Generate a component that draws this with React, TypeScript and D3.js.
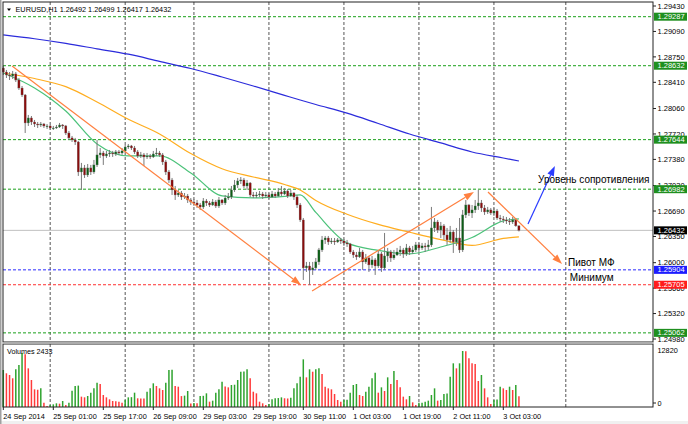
import React from "react";
import * as d3 from "d3";

// ---------- DATA ----------
const firstOpen = 1.28601;
const closes = [
  1.28548, 1.28508, 1.28495, 1.28522, 1.28441, 1.28334, 1.28241, 1.27867, 1.27934, 1.2788,
  1.27853, 1.2784, 1.27853, 1.27827, 1.27827, 1.278, 1.278, 1.27813, 1.2784, 1.27827,
  1.27733, 1.27667, 1.2764, 1.27613, 1.27212, 1.27266, 1.27172, 1.27266, 1.27212, 1.27306,
  1.2744, 1.27466, 1.27426, 1.27453, 1.27466, 1.27453, 1.2748, 1.27466, 1.27493, 1.27546,
  1.2756, 1.27533, 1.2748, 1.27426, 1.2744, 1.27413, 1.27426, 1.27413, 1.27453, 1.27466,
  1.2744, 1.27346, 1.27212, 1.27105, 1.26972, 1.26905, 1.26931, 1.26878, 1.26891, 1.26838,
  1.26811, 1.26798, 1.26771, 1.26744, 1.26824, 1.26798, 1.26771, 1.26811, 1.26758, 1.26838,
  1.26798, 1.26864, 1.26878, 1.26972, 1.27038, 1.27092, 1.27105, 1.27025, 1.27065, 1.26905,
  1.26891, 1.26905, 1.26918, 1.26891, 1.26905, 1.26878, 1.26918, 1.26891, 1.26945, 1.26918,
  1.26958, 1.26891, 1.26931, 1.26878, 1.26771, 1.26571, 1.2593, 1.25956, 1.25903, 1.2593,
  1.2601, 1.2617, 1.26304, 1.2633, 1.26277, 1.2629, 1.26277, 1.26304, 1.2629, 1.26264,
  1.2625, 1.26143, 1.26103, 1.26077, 1.26143, 1.2601, 1.26063, 1.2597, 1.26037, 1.25956,
  1.26117, 1.2593, 1.2609, 1.26143, 1.26063, 1.26103, 1.26143, 1.2617, 1.26117, 1.26197,
  1.26143, 1.2617, 1.26237, 1.26197, 1.26224, 1.2621, 1.26237, 1.26464, 1.26544, 1.26437,
  1.26491, 1.2637, 1.26304, 1.2641, 1.26277, 1.2633, 1.2617, 1.26638, 1.26771, 1.26664,
  1.26705, 1.26758, 1.26798, 1.26731, 1.26678, 1.26705, 1.26664, 1.26691, 1.26597, 1.26584,
  1.26571, 1.26557, 1.26544, 1.26571, 1.26492, 1.26432,
];
const highs = [
  1.28628, 1.28575, 1.28548, 1.28562, 1.28548, 1.28468, 1.28361, 1.28254, 1.27974, 1.2796,
  1.27907, 1.2788, 1.2788, 1.27867, 1.27853, 1.2784, 1.27827, 1.2784, 1.27867, 1.27853,
  1.2784, 1.2776, 1.27693, 1.27667, 1.27626, 1.27333, 1.27306, 1.27319, 1.27306, 1.27373,
  1.2764, 1.27533, 1.27493, 1.27493, 1.27506, 1.27493, 1.27506, 1.27506, 1.27533, 1.27573,
  1.27586, 1.27573, 1.2756, 1.27506, 1.2748, 1.27466, 1.27466, 1.27453, 1.27493, 1.27533,
  1.27493, 1.27466, 1.27373, 1.27239, 1.27132, 1.27025, 1.26972, 1.26958, 1.26931, 1.26918,
  1.26864, 1.26851, 1.26838, 1.26798, 1.26864, 1.26851, 1.26824, 1.26851, 1.26838, 1.26878,
  1.26851, 1.26905, 1.26931, 1.27025, 1.27105, 1.27132, 1.27145, 1.27132, 1.27105, 1.27078,
  1.26945, 1.26945, 1.26958, 1.26945, 1.26945, 1.26931, 1.26958, 1.26945, 1.26998, 1.27025,
  1.26998, 1.26985, 1.26972, 1.26945, 1.26905, 1.26798, 1.26597, 1.2601, 1.2601, 1.2601,
  1.26063, 1.26197, 1.26357, 1.26357, 1.26357, 1.2633, 1.2633, 1.2633, 1.2633, 1.26317,
  1.26304, 1.26264, 1.2617, 1.26143, 1.26197, 1.2617, 1.26117, 1.2609, 1.2609, 1.26063,
  1.2617, 1.26143, 1.26397, 1.26197, 1.2617, 1.2617, 1.26197, 1.26224, 1.26197, 1.2625,
  1.26224, 1.26224, 1.26277, 1.26264, 1.26264, 1.26264, 1.26304, 1.26745, 1.26597, 1.26571,
  1.26544, 1.26517, 1.26464, 1.26491, 1.26437, 1.26464, 1.26597, 1.26705, 1.26838, 1.26785,
  1.26771, 1.26838, 1.26972, 1.26838, 1.26771, 1.26745, 1.26731, 1.26731, 1.26718, 1.26638,
  1.26624, 1.26611, 1.26597, 1.26611, 1.26597, 1.26499,
];
const lows = [
  1.28508, 1.28468, 1.28441, 1.28455, 1.28414, 1.28308, 1.28214, 1.27733, 1.27827, 1.2784,
  1.27813, 1.278, 1.27813, 1.278, 1.27787, 1.27773, 1.27773, 1.27787, 1.278, 1.27787,
  1.27706, 1.2764, 1.27613, 1.27573, 1.27159, 1.26972, 1.27132, 1.27145, 1.27172, 1.27186,
  1.27279, 1.27399, 1.27306, 1.27399, 1.27413, 1.27413, 1.27426, 1.2744, 1.2744, 1.2748,
  1.2752, 1.27506, 1.27453, 1.27399, 1.27399, 1.27292, 1.27386, 1.27386, 1.27399, 1.27426,
  1.27413, 1.27306, 1.27172, 1.27065, 1.26905, 1.26838, 1.26878, 1.26838, 1.26851, 1.26798,
  1.26771, 1.26758, 1.26731, 1.26705, 1.26718, 1.26758, 1.26744, 1.26758, 1.26731, 1.26731,
  1.26771, 1.26771, 1.26838, 1.26851, 1.26945, 1.26998, 1.27052, 1.26998, 1.26972, 1.26878,
  1.26864, 1.26864, 1.26878, 1.26851, 1.26864, 1.26851, 1.26864, 1.26864, 1.26878, 1.26891,
  1.26905, 1.26864, 1.26878, 1.26838, 1.26731, 1.26544, 1.25769, 1.25876, 1.25702, 1.25836,
  1.25903, 1.2597, 1.26143, 1.2625, 1.26237, 1.2625, 1.26237, 1.26264, 1.2625, 1.26224,
  1.2621, 1.26117, 1.26063, 1.26037, 1.26063, 1.25903, 1.25983, 1.25876, 1.2593, 1.25836,
  1.2593, 1.25876, 1.25903, 1.2601, 1.2601, 1.26037, 1.2609, 1.2609, 1.26063, 1.2609,
  1.26103, 1.26117, 1.26143, 1.26143, 1.2617, 1.26143, 1.2617, 1.2621, 1.2641, 1.26397,
  1.2633, 1.26304, 1.26237, 1.26264, 1.2613, 1.26224, 1.2613, 1.26143, 1.26597, 1.26624,
  1.26597, 1.26664, 1.26705, 1.26678, 1.26638, 1.26651, 1.26638, 1.26624, 1.26571, 1.26544,
  1.2653, 1.26517, 1.26504, 1.26517, 1.2648, 1.26417,
];
const volumes = [
  8470, 7714, 7325, 6570, 8630, 9614, 12350, 12100, 8850, 6180,
  4045, 3950, 4270, 992, 230, 460, 610, 840, 760, 1374,
  460, 990, 3740, 4810, 4900, 2370, 2220, 2520, 3280, 4270,
  5570, 5265, 2750, 2210, 1750, 1370, 1330, 1220, 990, 1600,
  2210, 2250, 3280, 1990, 1970, 1950, 3510, 4270, 5420, 4810,
  4270, 3890, 5570, 8470, 8500, 4810, 4650, 2500, 2600, 3660,
  800, 900, 840, 2520, 2560, 3130, 1220, 1450, 3280, 4045,
  5800, 4700, 4500, 5040, 5100, 6180, 8080, 8150, 8630, 6570,
  3500, 3130, 1220, 840, 460, 700, 1760, 1990, 2050, 2210,
  2000, 1950, 2100, 4270, 5420, 6940,
  10910, 6790, 8630, 8080, 8630, 8850, 7550, 4650, 4270, 4045,
  2980, 1600, 1220, 1600, 1650, 3280, 5040, 5265, 2750, 2520,
  3500, 4650, 6570, 7860, 3280, 4500, 3660, 6790, 5265, 8240,
  6180, 4500, 2370, 1760, 2520, 1070, 460, 990, 1000, 1220,
  1450, 2750, 4270, 1450, 1600, 3000, 3100, 6940, 10000, 8850,
  10000, 12820, 12750, 11150, 10000, 9840, 5950, 7325, 4270, 2210,
  690, 1600, 1700, 4650, 4270, 3890, 4650, 3890, 5040, 2433,
];
const volumeMax = 12820;

// moving averages, sampled at bar indices
const maIndex = [0, 10, 20, 30, 40, 50, 60, 70, 80, 90, 95, 100, 110, 120, 130, 140, 150, 160, 165];
const maSlow = [1.29043, 1.28992, 1.2893, 1.28858, 1.28786, 1.2869, 1.28595, 1.28481, 1.28361, 1.28236, 1.28174, 1.28114, 1.27998, 1.2786, 1.2772, 1.276, 1.27479, 1.27399, 1.27359];
const maMid = [1.28535, 1.28461, 1.28352, 1.28147, 1.27916, 1.2772, 1.27458, 1.27255, 1.27145, 1.27045, 1.26972, 1.26832, 1.26647, 1.26511, 1.26407, 1.26309, 1.2623, 1.26324, 1.26344];
const maFast = [1.28535, 1.28335, 1.28027, 1.27586, 1.27426, 1.27426, 1.27199, 1.26892, 1.26865, 1.26885, 1.26905, 1.26671, 1.26264, 1.26164, 1.26117, 1.2621, 1.26337, 1.26558, 1.26584];

const priceTicks = [1.2943, 1.2909, 1.2875, 1.2841, 1.2806, 1.2772, 1.2738, 1.2703, 1.2669, 1.2635, 1.26, 1.2566, 1.2532, 1.2498];
const greenLevels = [1.29287, 1.28632, 1.27644, 1.26982, 1.25062];
const pivotLevel = 1.25904;
const minimumLevel = 1.25705;

const timeTickIdx = [0, 16, 32, 48, 64, 80, 96, 112, 128, 144, 160];
const timeLabels = ["24 Sep 2014", "25 Sep 01:00", "25 Sep 17:00", "26 Sep 09:00", "29 Sep 03:00", "29 Sep 19:00", "30 Sep 11:00", "1 Oct 03:00", "1 Oct 19:00", "2 Oct 11:00", "3 Oct 03:00"];
const dayStartIdx = [15, 39, 61, 85, 109, 133, 157, 180];

const orangeArrowFrom: [number, number][] = [[2.8, 1.28628], [98.8, 1.25622], [155.1, 1.26945]];
const orangeArrowTo: [number, number][] = [[95.3, 1.25702], [150.6, 1.26945], [178.8, 1.25983]];
const blueArrowFrom: [number, number] = [167.9, 1.26517];
const blueArrowTo: [number, number] = [176.5, 1.27292];

const noteTexts = ["Уровень сопротивления", "Пивот МФ", "Минимум"];
const noteIdx = [171.1, 180.7, 181.3];
const notePrice = [1.27065, 1.25956, 1.25756];

const symbolTitle = "EURUSD,H1";
const volumeTitle = "Volumes";

// ---------- CHART ----------
const W = 688;
const H = 424;
const L = 3;
const R = 653;
const MAIN_T = 2;
const MAIN_B = 342;
const VOL_T = 344;
const VOL_B = 407;
const FONT = "'Liberation Sans', Arial, sans-serif";

function Arrow({ x1, y1, x2, y2, color }: { x1: number; y1: number; x2: number; y2: number; color: string }) {
  const a = Math.atan2(y2 - y1, x2 - x1);
  const len = 10;
  const hw = 3.5;
  const bx = x2 - len * Math.cos(a);
  const by = y2 - len * Math.sin(a);
  const px = -Math.sin(a) * hw;
  const py = Math.cos(a) * hw;
  return (
    <g>
      <line x1={x1} y1={y1} x2={bx} y2={by} stroke={color} strokeWidth={1.2} />
      <path d={`M${x2},${y2}L${bx + px},${by + py}L${bx - px},${by - py}Z`} fill={color} />
    </g>
  );
}

export default function App() {
  const n = closes.length;
  const x = d3.scaleLinear().domain([0, n - 1]).range([3.3, 3.3 + 3.125 * (n - 1)]);
  const y = d3.scaleLinear().domain([1.2498, 1.2943]).range([339, 6]);
  const yv = d3.scaleLinear().domain([0, volumeMax]).range([VOL_B, 351]);
  const opens = closes.map((c, i) => (i === 0 ? firstOpen : closes[i - 1]));
  const last = n - 1;

  const maLine = (vals: number[]) =>
    d3
      .line<number>()
      .x((_, i) => x(maIndex[i]))
      .y((d) => y(d))
      .curve(d3.curveMonotoneX)(vals) || "";

  const fmt = (v: number) => v.toFixed(5);

  const boxes: { v: number; fill: string }[] = [
    ...greenLevels.map((v) => ({ v, fill: "#1f8f1f" })),
    { v: closes[last], fill: "#000000" },
    { v: pivotLevel, fill: "#1c1cff" },
    { v: minimumLevel, fill: "#ff1c1c" },
  ];

  return (
    <div style={{ position: "fixed", left: 0, top: 0, width: W, height: H }}>
      <svg width={W} height={H} style={{ display: "block" }} fontFamily={FONT}>
        <rect x={0} y={0} width={W} height={H} fill="#ffffff" />
        <rect x={0} y={421} width={W} height={3} fill="#f0f0f0" />
        <rect x={0} y={0} width={1.5} height={H} fill="#a0a0a0" />

        {/* vertical day grid */}
        {dayStartIdx.map((d, i) => (
          <g key={"g" + i}>
            <line x1={x(d)} x2={x(d)} y1={MAIN_T} y2={MAIN_B} stroke="#555" strokeDasharray="3,2" strokeWidth={1} />
            <line x1={x(d)} x2={x(d)} y1={VOL_T} y2={VOL_B} stroke="#555" strokeDasharray="3,2" strokeWidth={1} />
          </g>
        ))}

        {/* horizontal levels */}
        {greenLevels.map((v, i) => (
          <line key={"gl" + i} x1={L} x2={R} y1={y(v)} y2={y(v)} stroke="#1aa01a" strokeDasharray="3,2" strokeWidth={1} />
        ))}
        <line x1={L} x2={R} y1={y(pivotLevel)} y2={y(pivotLevel)} stroke="#2a2aff" strokeDasharray="3,2" strokeWidth={1} />
        <line x1={L} x2={R} y1={y(minimumLevel)} y2={y(minimumLevel)} stroke="#ff3030" strokeDasharray="3,2" strokeWidth={1} />
        <line x1={L} x2={R} y1={y(closes[last])} y2={y(closes[last])} stroke="#c0c0c0" strokeWidth={1} />

        {/* moving averages */}
        <path d={maLine(maSlow)} fill="none" stroke="#2b2bdb" strokeWidth={1.2} />
        <path d={maLine(maMid)} fill="none" stroke="#ffad1f" strokeWidth={1.2} />
        <path d={maLine(maFast)} fill="none" stroke="#4cc27a" strokeWidth={1.2} />

        {/* candles */}
        {closes.map((c, i) => {
          const o = opens[i];
          const cx = x(i);
          const top = y(Math.max(o, c));
          const bot = y(Math.min(o, c));
          const bull = c >= o;
          return (
            <g key={"c" + i}>
              <line x1={cx} x2={cx} y1={y(highs[i])} y2={y(lows[i])} stroke="#7a7a7a" strokeWidth={1} />
              <rect
                x={cx - 1.1}
                y={top}
                width={2.2}
                height={Math.max(0.8, bot - top)}
                fill={bull ? "#0c5e16" : "#8a0c0c"}
                stroke="#7a7a7a"
                strokeWidth={0.3}
              />
            </g>
          );
        })}

        {/* annotations */}
        {orangeArrowFrom.map((f, i) => (
          <Arrow
            key={"oa" + i}
            x1={x(f[0])}
            y1={y(f[1])}
            x2={x(orangeArrowTo[i][0])}
            y2={y(orangeArrowTo[i][1])}
            color="#ff8040"
          />
        ))}
        <Arrow x1={x(blueArrowFrom[0])} y1={y(blueArrowFrom[1])} x2={x(blueArrowTo[0])} y2={y(blueArrowTo[1])} color="#2a3cff" />
        {noteTexts.map((t, i) => (
          <text key={"nt" + i} x={x(noteIdx[i])} y={y(notePrice[i])} fontSize={10} fill="#000">
            {t}
          </text>
        ))}

        {/* header */}
        <path d="M7,8.5L11,8.5L9,11Z" fill="#000" />
        <text x={15.5} y={12} fontSize={7.3} fill="#000">
          {`${symbolTitle} ${fmt(opens[last])} ${fmt(highs[last])} ${fmt(lows[last])} ${fmt(closes[last])}`}
        </text>

        {/* volume bars */}
        {volumes.map((v, i) => (
          <line
            key={"v" + i}
            x1={x(i)}
            x2={x(i)}
            y1={VOL_B}
            y2={yv(v)}
            stroke={i === 0 || v > volumes[i - 1] ? "#2ea32e" : "#ff3a3a"}
            strokeWidth={1.5}
          />
        ))}
        <text x={7} y={354} fontSize={7.2} fill="#000">{`${volumeTitle} ${volumes[last]}`}</text>

        {/* panel frames */}
        <rect x={L} y={MAIN_T} width={R - L} height={MAIN_B - MAIN_T} fill="none" stroke="#222" strokeWidth={1} />
        <rect x={L} y={VOL_T} width={R - L} height={VOL_B - VOL_T} fill="none" stroke="#222" strokeWidth={1} />
        <rect x={L} y={MAIN_B + 0.5} width={R - L} height={VOL_T - MAIN_B - 1} fill="#c8c8c8" />

        {/* price axis */}
        {priceTicks.map((v, i) => (
          <g key={"pt" + i}>
            <line x1={R} x2={R + 3} y1={y(v)} y2={y(v)} stroke="#222" />
            <text x={657.5} y={y(v)} dy="0.35em" fontSize={7.5} fill="#000">
              {fmt(v)}
            </text>
          </g>
        ))}
        {boxes.map((b, i) => (
          <g key={"bx" + i}>
            <rect x={R + 1} y={y(b.v) - 4} width={33} height={8} fill={b.fill} />
            <text x={657.5} y={y(b.v)} dy="0.35em" fontSize={7.5} fill="#fff">
              {fmt(b.v)}
            </text>
          </g>
        ))}
        <text x={657.5} y={yv(volumeMax) - 1} dy="0.35em" fontSize={7.3} fill="#000">
          {volumeMax}
        </text>
        <line x1={R} x2={R + 3} y1={VOL_B - 4} y2={VOL_B - 4} stroke="#222" />
        <text x={657.5} y={VOL_B - 4} dy="0.35em" fontSize={7.3} fill="#000">
          0
        </text>

        {/* time axis */}
        {timeTickIdx.map((t, i) => (
          <g key={"tt" + i}>
            <line x1={x(t)} x2={x(t)} y1={VOL_B} y2={VOL_B + 3} stroke="#222" />
            <text x={x(t)} y={419} fontSize={7.3} fill="#000">
              {timeLabels[i]}
            </text>
          </g>
        ))}
      </svg>
    </div>
  );
}
